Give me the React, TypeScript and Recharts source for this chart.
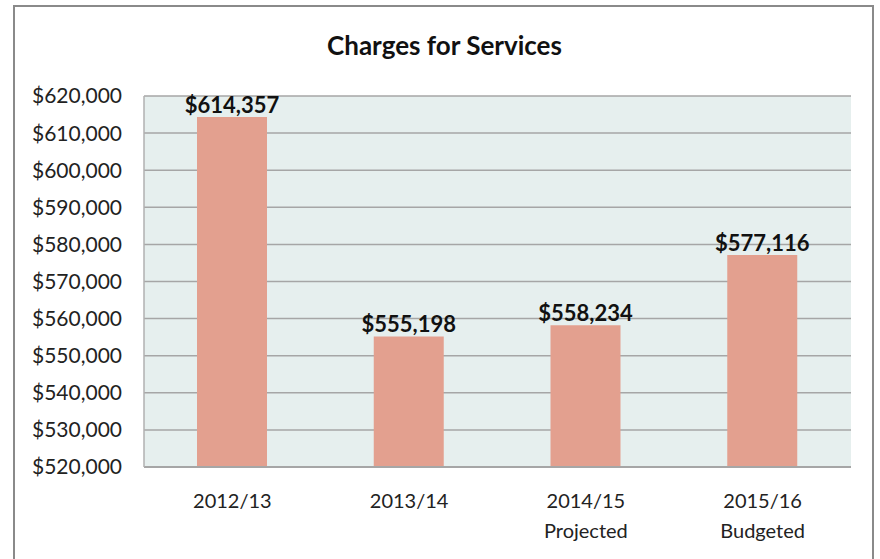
import { Bar, BarChart, CartesianGrid, LabelList, XAxis, YAxis } from "recharts";

const years = ["2012/13", "2013/14", "2014/15", "2015/16"];
const notes = ["", "", "Projected", "Budgeted"];
const charges = [614357, 555198, 558234, 577116];
const yTicks = [520000, 530000, 540000, 550000, 560000, 570000, 580000, 590000, 600000, 610000, 620000];

const data = years.map((y, i) => ({ name: y, note: notes[i], value: charges[i] }));

const font = "Lato, 'Open Sans', sans-serif";
const money = (v: number) => "$" + v.toLocaleString("en-US");

function XTick(props: any) {
  const { x, y, payload, index } = props;
  const note = notes[index];
  return (
    <g transform={`translate(${x},${y})`}>
      <text textAnchor="middle" fill="#222" fontSize={20} fontFamily={font} x={0} y={33}>
        {payload.value}
      </text>
      {note && (
        <text textAnchor="middle" fill="#222" fontSize={20} fontFamily={font} x={0} y={63}>
          {note}
        </text>
      )}
    </g>
  );
}

export default function App() {
  return (
    <div style={{ position: "absolute", left: 0, top: 0, width: 880, height: 559, background: "#fff" }}>
      <div
        style={{
          position: "absolute",
          left: 13,
          top: 5,
          width: 861,
          height: 560,
          border: "2px solid #8a8a8a",
          boxSizing: "border-box",
        }}
      />
      <div
        style={{
          position: "absolute",
          left: 0,
          top: 29,
          width: 889,
          textAlign: "center",
          fontFamily: font,
          fontWeight: 700,
          fontSize: 26,
          color: "#111",
        }}
      >
        Charges for Services
      </div>
      <div style={{ position: "absolute", left: 0, top: 0 }}>
        <BarChart width={880} height={559} data={data} margin={{ top: 96, right: 29, bottom: 0, left: 0 }}>
          <CartesianGrid vertical={false} fill="#e6efee" stroke="#a6a6a6" strokeWidth={1.5} />
          <XAxis
            dataKey="name"
            height={92}
            tickLine={false}
            axisLine={{ stroke: "#a6a6a6", strokeWidth: 2 }}
            tick={<XTick />}
            interval={0}
          />
          <YAxis
            width={144}
            domain={[520000, 620000]}
            ticks={yTicks}
            tickFormatter={money}
            tickLine={false}
            tickMargin={16}
            axisLine={{ stroke: "#b0b0b0", strokeWidth: 1.5 }}
            tick={{ fontSize: 21, fill: "#222", fontFamily: font }}
            interval={0}
          />
          <Bar dataKey="value" fill="#e3a08f" barSize={70} isAnimationActive={false}>
            <LabelList
              dataKey="value"
              position="top"
              offset={4}
              formatter={(v: any) => money(Number(v))}
              style={{ fontSize: 22, fontWeight: 700, fill: "#111", fontFamily: font }}
            />
          </Bar>
        </BarChart>
      </div>
    </div>
  );
}
